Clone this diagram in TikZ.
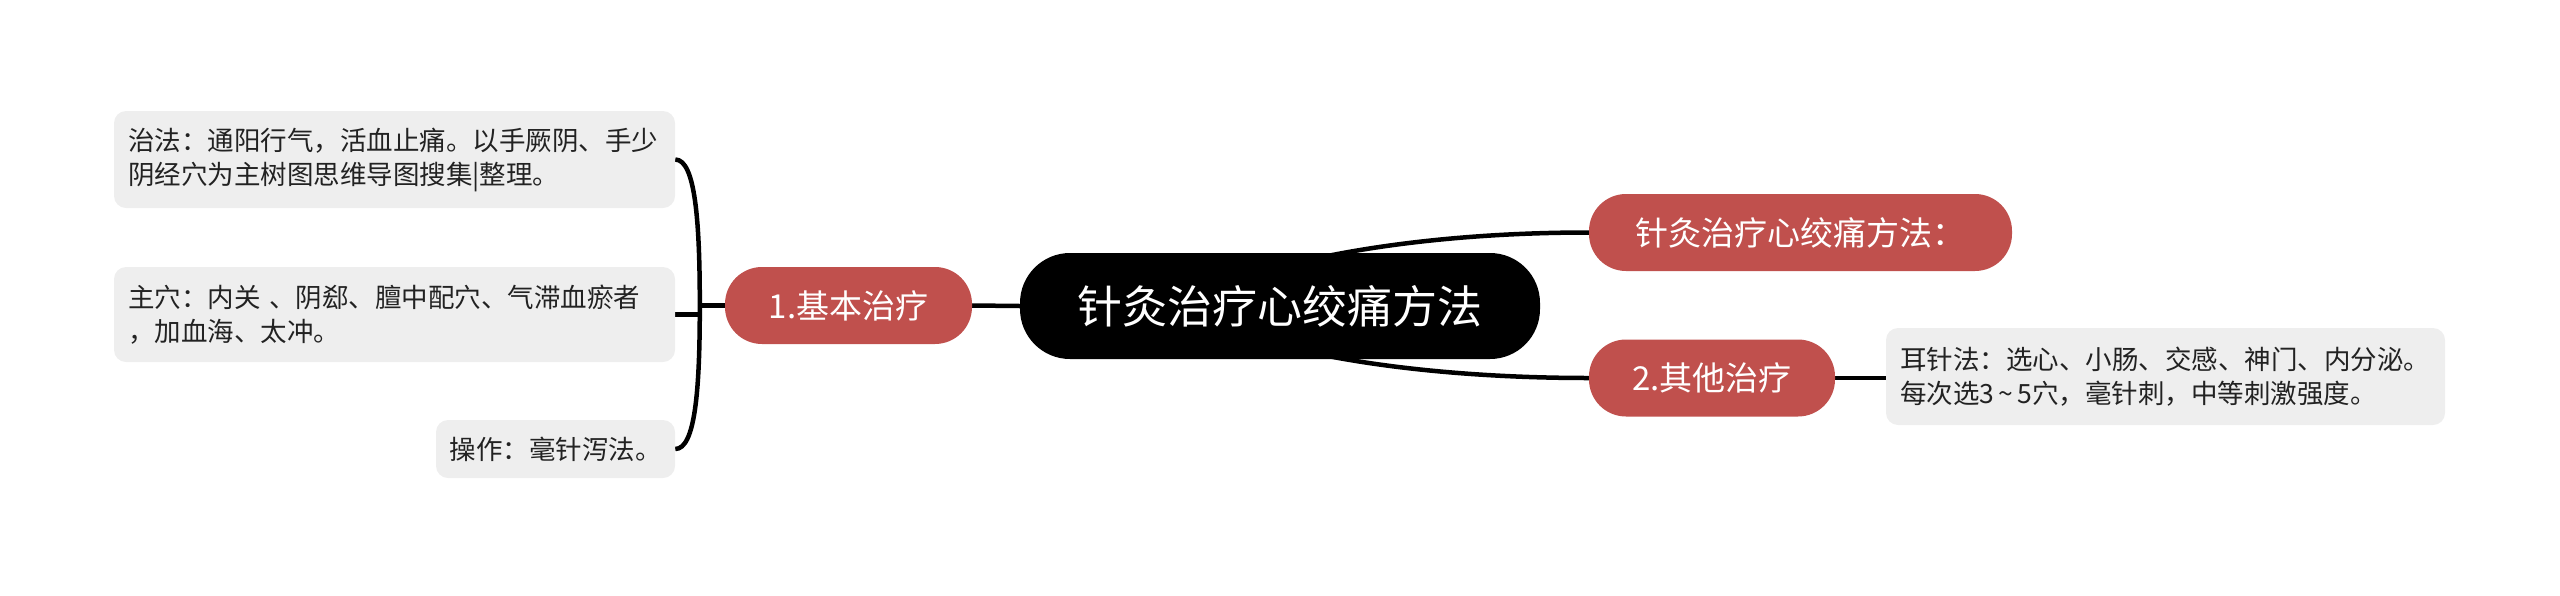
\documentclass[tikz,border=0pt]{standalone}
\usepackage{fontspec}
\setmainfont{Noto Sans CJK SC}
\usetikzlibrary{backgrounds,calc}
\definecolor{redn}{HTML}{C0504D}
\definecolor{leafbg}{HTML}{EEEEEE}
\definecolor{leaftx}{HTML}{222222}
\tikzset{
  rootnode/.style={fill=black, text=white, rounded corners=50pt, minimum width=520pt, minimum height=106pt, inner sep=0pt, font=\fontsize{45}{54}\selectfont},
  branchnode/.style={fill=redn, text=white, rounded corners=37pt, minimum height=77pt, inner sep=0pt, font=\fontsize{33}{40}\selectfont},
  leafnode/.style={fill=leafbg, text=leaftx, rounded corners=12pt, inner xsep=14pt, inner ysep=0pt, align=left, font=\fontsize{26.5}{34}\selectfont},
  conn/.style={line width=4.5pt, draw=black}
}
\begin{document}
\begin{tikzpicture}[x=1pt,y=-1pt]
\useasboundingbox (0,0) rectangle (2560,595);
\node[rootnode] (c) at (1280,306) {针灸治疗心绞痛方法};
\node[branchnode, minimum width=423pt] (t) at (1800.5,232.5) {针灸治疗心绞痛方法：};
\node[branchnode, minimum width=246pt] (n2) at (1712,378) {2.其他治疗};
\node[branchnode, minimum width=247pt] (n1) at (848.5,305.5) {1.基本治疗};
\node[leafnode, text width=533pt, minimum height=97pt] (l1) at (394.5,159.5) {治法：通阳行气，活血止痛。以手厥阴、手少\\阴经穴为主树图思维导图搜集|整理。};
\node[leafnode, text width=533pt, minimum height=95pt] (l2) at (394.5,314.5) {主穴：内关 、阴郄、膻中配穴、气滞血瘀者\\，加血海、太冲。};
\node[leafnode, inner xsep=13.5pt, text width=212pt, minimum height=58pt] (l3) at (555.5,449) {操作：毫针泻法。};
\node[leafnode, text width=531pt, minimum height=97pt] (r1) at (2165.5,376.5) {耳针法：选心、小肠、交感、神门、内分泌。\\每次选3\,\textasciitilde\,5穴，毫针刺，中等刺激强度。};
\coordinate (j) at ($(n1.west)+(-25,0)$);
\begin{pgfonlayer}{background}
\draw[conn] ($(c.center)+(20,-44)$) .. controls ($(c.center)+(70,-56)$) and ($(t.west)+(-139,0)$) .. (t.west);
\draw[conn] ($(c.center)+(20,44)$) .. controls ($(c.center)+(70,56)$) and ($(n2.west)+(-139,0)$) .. (n2.west);
\draw[conn] (n1.east) -- (c.west);
\draw[conn] (n2.east) -- (n2.east -| r1.west);
\draw[conn] (n1.west) -- (j);
\draw[conn] (l1.east) .. controls ($(l1.east)+(20,0)$) and ($(j)+(0,-85)$) .. (j) .. controls ($(j)+(0,85)$) and ($(l3.east)+(20,0)$) .. (l3.east);
\draw[conn] (l2.east) -- (l2.east -| j);
\end{pgfonlayer}
\end{tikzpicture}
\end{document}
